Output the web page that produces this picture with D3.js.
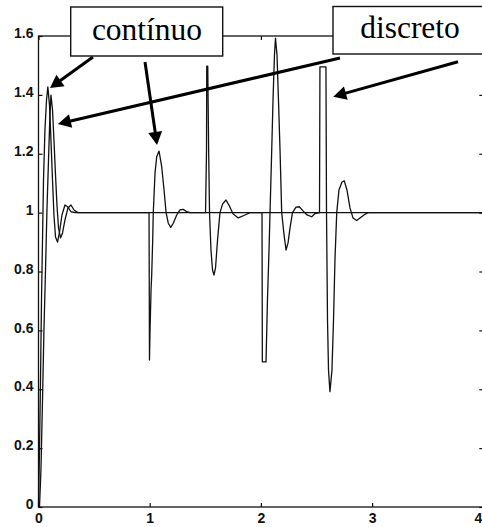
<!DOCTYPE html>
<html>
<head>
<meta charset="utf-8">
<script src="https://cdn.jsdelivr.net/npm/d3@7"></script>
<style>
  html, body { margin: 0; padding: 0; background: #fff; }
  svg { display: block; }
</style>
</head>
<body>
<div id="chart"></div>
<script>
// Response of the continuous controller (time in s, output)
const contT = [0, 0.009, 0.018, 0.027, 0.036, 0.045, 0.058, 0.072, 0.084, 0.099, 0.112, 0.126, 0.139, 0.153, 0.171, 0.189, 0.211, 0.238, 0.265, 0.292, 0.328,
  0.994, 0.998, 1.003, 1.012, 1.018, 1.027, 1.032, 1.048, 1.063, 1.084, 1.108, 1.129, 1.147, 1.167, 1.189, 1.212, 1.243, 1.272, 1.302, 1.333, 1.362,
  1.502, 1.511, 1.513, 1.522, 1.530, 1.538, 1.551, 1.565, 1.578, 1.592, 1.610, 1.632, 1.655, 1.686, 1.718, 1.749, 1.797, 1.857, 1.902, 4.0];
const contY = [0, 0.194, 0.431, 0.703, 0.907, 1.111, 1.281, 1.382, 1.427, 1.365, 1.247, 1.111, 0.992, 0.917, 0.900, 0.934, 0.992, 1.026, 1.019, 1.003, 1.0,
  1.0, 0.499, 0.601, 0.737, 0.788, 0.907, 0.999, 1.135, 1.190, 1.209, 1.156, 1.077, 1.001, 0.964, 0.950, 0.964, 0.992, 1.009, 1.011, 1.003, 1.0,
  1.0, 1.213, 1.498, 1.498, 1.213, 1.0, 0.873, 0.805, 0.788, 0.812, 0.907, 1.0, 1.029, 1.043, 1.022, 0.996, 0.982, 0.992, 1.0, 1.0];

// Response of the discrete controller (time in s, output)
const discT = [0.009, 0.022, 0.036, 0.049, 0.063, 0.076, 0.090, 0.103, 0.112, 0.126, 0.139, 0.153, 0.166, 0.180, 0.198, 0.216, 0.238, 0.265, 0.292, 0.319, 0.355,
  2.010, 2.013, 2.046, 2.059, 2.073, 2.082, 2.095, 2.109, 2.122, 2.131, 2.145, 2.158, 2.172, 2.187, 2.208, 2.226, 2.244, 2.262, 2.284, 2.316, 2.345, 2.379, 2.415, 2.457, 2.487,
  2.527, 2.531, 2.585, 2.590, 2.599, 2.608, 2.621, 2.639, 2.653, 2.666, 2.682, 2.702, 2.729, 2.750, 2.774, 2.801, 2.828, 2.861, 2.891, 2.927, 2.963, 4.0];
const discY = [0, 0.126, 0.363, 0.601, 0.805, 1.009, 1.179, 1.332, 1.399, 1.349, 1.247, 1.128, 1.026, 0.948, 0.914, 0.931, 0.975, 1.016, 1.026, 1.009, 1.0,
  1.0, 0.493, 0.493, 0.703, 0.873, 1.0, 1.179, 1.383, 1.535, 1.593, 1.535, 1.383, 1.213, 1.0, 0.925, 0.873, 0.897, 0.948, 1.0, 1.019, 1.020, 1.006, 0.992, 0.986, 0.997,
  1.0, 1.495, 1.495, 1.0, 0.635, 0.465, 0.392, 0.465, 0.635, 0.839, 1.0, 1.077, 1.104, 1.108, 1.077, 1.016, 0.982, 0.973, 0.982, 0.992, 1.0, 1.0];

const xTicks = [0, 1, 2, 3, 4];
const yTicks = [0, 0.2, 0.4, 0.6, 0.8, 1, 1.2, 1.4, 1.6];

// Callout labels and the points each arrow indicates
const calloutText = ["contínuo", "discreto"];
const arrowLabel = [0, 0, 1, 1];
const arrowTargetT = [0.103, 1.066, 0.175, 2.651];
const arrowTargetY = [1.423, 1.230, 1.301, 1.394];

const W = 482, H = 527;
const margin = { left: 38.5, top: 36, right: -1.3, bottom: 20 };

const x = d3.scaleLinear().domain([0, 4]).range([margin.left, W - margin.right]);
const y = d3.scaleLinear().domain([0, 1.6]).range([H - margin.bottom, margin.top]);

const svg = d3.select("#chart").append("svg")
  .attr("width", W).attr("height", H)
  .attr("viewBox", `0 0 ${W} ${H}`);

const tickFont = "'Liberation Sans', Arial, Helvetica, sans-serif";
const fmtY = v => (v === 0 || v === 1) ? String(v) : v.toFixed(1);

// Axes box
svg.append("rect")
  .attr("x", x(0)).attr("y", y(1.6))
  .attr("width", x(4) - x(0)).attr("height", y(0) - y(1.6))
  .attr("fill", "none").attr("stroke", "#111").attr("stroke-width", 1.3);

function styleAxis(g) {
  g.select(".domain").remove();
  g.selectAll(".tick line").attr("stroke", "#111").attr("stroke-width", 1.2);
  g.selectAll(".tick text")
    .attr("fill", "#111")
    .attr("font-family", tickFont)
    .attr("font-weight", "bold")
    .attr("font-size", 14);
}

svg.append("g")
  .attr("transform", `translate(0,${y(0)})`)
  .call(d3.axisBottom(x).tickValues(xTicks).tickFormat(d3.format("d")).tickSize(-4).tickPadding(6))
  .call(styleAxis)
  // the last label sits at the window edge, so it is right-aligned to stay whole
  .call(g => g.selectAll(".tick text").filter(d => d === 4)
    .attr("text-anchor", "end").attr("x", -1.5));

svg.append("g")
  .attr("transform", `translate(${x(0)},0)`)
  .call(d3.axisLeft(y).tickValues(yTicks).tickFormat(fmtY).tickSize(-4).tickPadding(5))
  .call(styleAxis)
  .call(g => g.selectAll(".tick text").attr("dy", "0.12em"));

svg.append("g")
  .attr("transform", `translate(0,${y(1.6)})`)
  .call(d3.axisTop(x).tickValues(xTicks).tickFormat("").tickSize(-4))
  .call(styleAxis);

svg.append("g")
  .attr("transform", `translate(${x(4)},0)`)
  .call(d3.axisRight(y).tickValues(yTicks).tickFormat("").tickSize(-4))
  .call(styleAxis);

// Response curves
const line = d3.line().x(d => x(d[0])).y(d => y(d[1]));
const contData = contT.map((t, i) => [t, contY[i]]);
const discData = discT.map((t, i) => [t, discY[i]]);

svg.append("path").datum(contData)
  .attr("d", line).attr("fill", "none")
  .attr("stroke", "#111").attr("stroke-width", 1.3).attr("stroke-linejoin", "round");
svg.append("path").datum(discData)
  .attr("d", line).attr("fill", "none")
  .attr("stroke", "#111").attr("stroke-width", 1.3).attr("stroke-linejoin", "round");

// Callout boxes
const boxes = [
  { x0: 70.7, y0: 7, x1: 222.7, y1: 56, tx: 147, ty: 40 },
  { x0: 333, y0: 6.5, x1: 488, y1: 54, tx: 410, ty: 38 }
];
// Arrow tails, at the box edges
const tails = [[93, 57], [145, 62], [340, 58], [458, 61.7]];

const arrows = svg.append("g");
arrowLabel.forEach((b, i) => {
  const [sx, sy] = tails[i];
  const ex = x(arrowTargetT[i]), ey = y(arrowTargetY[i]);
  const dx = ex - sx, dy = ey - sy;
  const len = Math.hypot(dx, dy);
  const ux = dx / len, uy = dy / len;
  const headL = 13, headW = 7;
  const bx = ex - ux * headL, by = ey - uy * headL;
  arrows.append("line")
    .attr("x1", sx).attr("y1", sy).attr("x2", bx + ux * 1).attr("y2", by + uy * 1)
    .attr("stroke", "#000").attr("stroke-width", 3);
  arrows.append("path")
    .attr("d", `M${ex},${ey}L${bx - uy * headW},${by + ux * headW}L${bx + uy * headW},${by - ux * headW}Z`)
    .attr("fill", "#000");
});

boxes.forEach((bx, i) => {
  svg.append("rect")
    .attr("x", bx.x0).attr("y", bx.y0)
    .attr("width", bx.x1 - bx.x0).attr("height", bx.y1 - bx.y0)
    .attr("fill", "#fff").attr("stroke", "#111").attr("stroke-width", 1.4);
  svg.append("text")
    .attr("x", bx.tx).attr("y", bx.ty)
    .attr("text-anchor", "middle")
    .attr("font-family", "'Liberation Serif', 'Times New Roman', serif")
    .attr("font-size", 31.5)
    .attr("fill", "#000")
    .text(calloutText[i]);
});
</script>
</body>
</html>
